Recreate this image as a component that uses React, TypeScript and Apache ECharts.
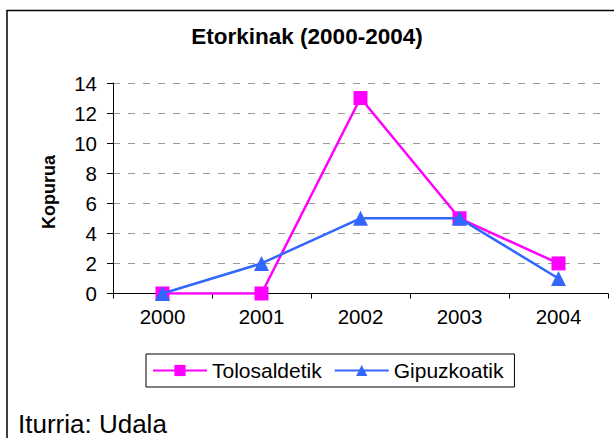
import React, { useEffect, useRef } from "react";
import * as echarts from "echarts";

const years = ["2000", "2001", "2002", "2003", "2004"];
const tolosaldetik = [0, 0, 13, 5, 2];
const gipuzkoatik = [0, 2, 5, 5, 1];
const titleText = "Etorkinak (2000-2004)";
const yAxisName = "Kopurua";
const sourceText = "Iturria: Udala";

const FONT = "Arial, 'Liberation Sans', Helvetica, sans-serif";

export default function App() {
  const ref = useRef<HTMLDivElement>(null);
  useEffect(() => {
    if (!ref.current) return;
    const chart = echarts.init(ref.current, null, { renderer: "svg" });
    chart.setOption({
      animation: false,
      backgroundColor: "#ffffff",
      textStyle: { fontFamily: FONT },
      title: {
        text: titleText,
        left: "center",
        top: 25,
        padding: 0,
        textStyle: { fontFamily: FONT, fontSize: 22.5, fontWeight: "bold", color: "#000" },
      },
      grid: { left: 113, right: 6, top: 83, bottom: 144.5, containLabel: false },
      legend: {
        left: 146,
        top: 354,
        padding: [6, 11, 6, 6],
        borderColor: "#000",
        borderWidth: 1,
        itemWidth: 54,
        itemHeight: 14,
        itemGap: 12,
        textStyle: { fontFamily: FONT, fontSize: 21, color: "#000" },
        data: ["Tolosaldetik", "Gipuzkoatik"],
      },
      xAxis: {
        type: "category",
        data: years,
        boundaryGap: true,
        axisLine: { lineStyle: { color: "#000", width: 1 } },
        axisTick: { show: true, length: 5, alignWithLabel: false, lineStyle: { color: "#000" } },
        axisLabel: { fontFamily: FONT, fontSize: 20.5, color: "#000", margin: 12 },
        splitLine: { show: false },
      },
      yAxis: {
        type: "value",
        min: 0,
        max: 14,
        interval: 2,
        axisLine: { show: true, lineStyle: { color: "#000", width: 1 } },
        axisTick: { show: true, length: 6, inside: false, lineStyle: { color: "#000" } },
        axisLabel: { fontFamily: FONT, fontSize: 20.5, color: "#000", margin: 16 },
        splitLine: { show: true, lineStyle: { color: "#999", width: 1, type: [7, 8] } },
      },
      graphic: [
        {
          type: "rect",
          shape: { x: 7, y: 10.5, width: 700, height: 500 },
          style: { fill: "none", stroke: "#000", lineWidth: 1.5 },
          silent: true,
          z: 100,
        },
        {
          type: "text",
          x: 49,
          y: 192,
          rotation: Math.PI / 2,
          style: {
            text: yAxisName,
            fontFamily: FONT,
            fontSize: 18,
            fontWeight: "bold",
            fill: "#000",
            textAlign: "center",
            textVerticalAlign: "middle",
          },
        },
        {
          type: "text",
          x: 18,
          y: 424,
          style: {
            text: sourceText,
            fontFamily: FONT,
            fontSize: 26,
            fill: "#000",
            textAlign: "left",
            textVerticalAlign: "middle",
          },
        },
      ],
      series: [
        {
          name: "Tolosaldetik",
          type: "line",
          data: tolosaldetik,
          symbol: "rect",
          symbolSize: 14,
          color: "#FF00FF",
          lineStyle: { color: "#FF00FF", width: 2.5 },
          itemStyle: { color: "#FF00FF" },
          z: 2,
        },
        {
          name: "Gipuzkoatik",
          type: "line",
          data: gipuzkoatik,
          symbol: "triangle",
          symbolSize: 15,
          color: "#3366FF",
          lineStyle: { color: "#3366FF", width: 2.5 },
          itemStyle: { color: "#3366FF" },
          z: 3,
        },
      ],
    });
    return () => chart.dispose();
  }, []);
  return (
    <div
      ref={ref}
      style={{ position: "absolute", left: 0, top: 0, width: 614, height: 438 }}
    />
  );
}
